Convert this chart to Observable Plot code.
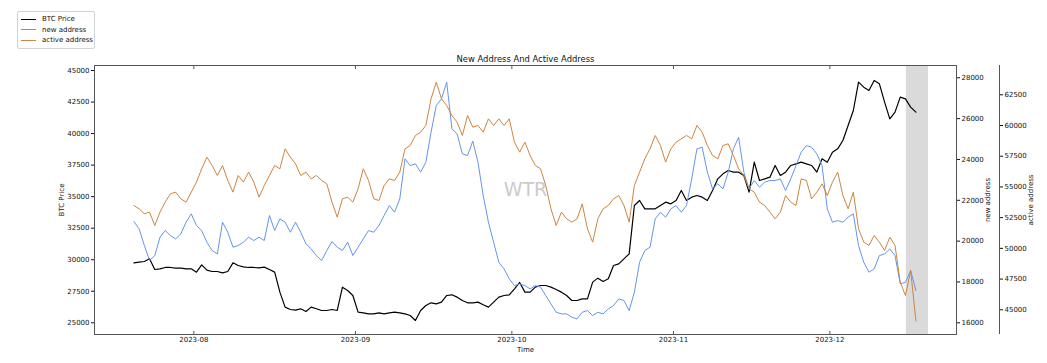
<!DOCTYPE html>
<html>
<head>
<meta charset="utf-8">
<script src="https://cdn.jsdelivr.net/npm/d3@7"></script>
<script src="https://cdn.jsdelivr.net/npm/@observablehq/plot@0.6"></script>
<style>
  html, body { margin: 0; padding: 0; background: #fff; }
  #wrap { position: relative; width: 1047px; height: 363px; font-family: "DejaVu Sans", sans-serif; }
  #legend { position: absolute; left: 17px; top: 11px; width: 78px; box-sizing: border-box; padding: 2px 0 2px 0;
            border: 1px solid #d4d4d4; border-radius: 2px; background: #fff; font-size: 7px; color: #111; white-space: nowrap; }
  .item { display: flex; align-items: center; height: 10.5px; }
  .swatch { width: 15px; flex: none; margin-left: 3px; margin-right: 6px; }
</style>
</head>
<body>
<div id="wrap"><div id="legend"></div></div>
<script>
// ---- data (daily, starting 2023-07-20 12:00 UTC) ----
const startDate = "2023-07-20T12:00:00Z";
const seriesNames = ["BTC Price", "new address", "active address"];
const seriesColors = ["#000000", "#6495ed", "#cd853f"];

const btcPrice = [
  29755, 29808, 29861, 30072, 29227, 29280, 29386, 29386, 29333, 29333,
  29280, 29280, 29016, 29597, 29174, 29068, 29068, 28963, 29068, 29755,
  29544, 29438, 29386, 29386, 29359, 29412, 29227, 29016, 27430, 26242,
  26057, 26004, 26110, 25898, 26242, 26110, 25977, 25977, 26057, 25977,
  27827, 27562, 27166, 25845, 25792, 25713, 25713, 25792, 25713, 25792,
  25845, 25792, 25713, 25581, 25185, 25977, 26374, 26585, 26506, 26638,
  27166, 27219, 27034, 26770, 26585, 26585, 26638, 26427, 26242, 26638,
  27034, 27166, 27219, 27695, 28200, 27430, 27430, 27827, 27959, 27959,
  27827, 27642, 27430, 27166, 26770, 26770, 26902, 26902, 28223, 28540,
  28276, 28487, 29544, 29676, 30072, 30469, 34300, 34696, 34035, 34035,
  34035, 34300, 34564, 34432, 34696, 35489, 34696, 34960, 35092, 34960,
  34696, 35489, 36413, 36810, 37074, 36942, 36942, 36678, 35356, 37734,
  36281, 36413, 36545, 37470, 36678, 36942, 37470, 37602, 37734, 37602,
  37470, 36942, 37998, 37734, 38527, 38791, 39451, 40640, 41829, 44075,
  43679, 43415, 44207, 43943, 42490, 41169, 41697, 42886, 42754, 42094,
  41697
];

const newAddress = [
  20960, 20600, 19784, 19049, 19294, 20192, 20519, 20274, 20110, 20355,
  20927, 21335, 20764, 20519, 19947, 19539, 19375, 20927, 20437, 19702,
  19784, 19947, 20192, 20029, 20192, 20029, 21254, 20519, 21090, 20927,
  20437, 20927, 20437, 19866, 19620, 19294, 19049, 19539, 19980, 19702,
  19539, 19947, 19294, 19702, 20110, 20519, 20437, 20764, 21254, 21743,
  21417, 22070, 24030, 23703, 23785, 23376, 23866, 25336, 26642, 26969,
  27786, 25499, 25254, 24274, 24193, 24900, 23866, 22233, 20927, 19947,
  18967, 18641, 18151, 17824, 17906, 17824, 17661, 17824, 17743, 17334,
  16926, 16518, 16436, 16436, 16273, 16191, 16518, 16600, 16355, 16518,
  16436, 16681, 16844, 17171, 17089, 16600, 17498, 18967, 19539, 19702,
  21090, 21417, 21172, 21580, 21743, 21417, 21743, 23050, 24520, 24601,
  23376, 22560, 22805, 22560, 23376, 24520, 25091, 23376, 22560, 22968,
  22641, 22887, 22968, 22968, 23050, 22478, 23050, 23703, 24356, 24683,
  24601, 24274, 23703, 21580, 20927, 21008, 20927, 21172, 21335, 19784,
  18967, 18477, 18641, 19294, 19376, 19620, 19294, 17906, 17987, 18559,
  17579
];

const activeAddress = [
  53490, 53219, 52812, 52948, 51862, 52948, 53762, 54440, 54576, 54033,
  53762, 54576, 55390, 56475, 57424, 56746, 55932, 56746, 55525, 54576,
  55932, 55390, 56204, 55390, 54169, 55118, 55932, 56746, 56475, 58103,
  57424, 56881, 55932, 56204, 55661, 55932, 55525, 55254, 53762, 52541,
  54033, 54169, 53762, 54847, 56475, 55525, 54033, 53898, 55118, 55661,
  55525, 56204, 58103, 58374, 59188, 59459, 60002, 62172, 63529, 62172,
  61629, 60815, 60273, 59188, 60815, 59866, 60002, 59459, 60544, 60002,
  60544, 60002, 60544, 58645, 57831, 58645, 57560, 56746, 56475, 55118,
  53219, 51862, 52948, 52405, 52134, 52405, 53626, 51591, 50506, 52405,
  53219, 53490, 54033, 54304, 53490, 52134, 55118, 56204, 57289, 58103,
  59188, 58374, 57017, 58103, 58645, 58916, 59188, 58916, 60002, 59459,
  58374, 57560, 57289, 58374, 58510, 57560, 56475, 55932, 54847, 54576,
  53762, 53490, 52948, 52405, 52948, 54304, 53762, 53490, 55661, 55525,
  54033, 54576, 55254, 54304, 55390, 56204, 54304, 53219, 54576, 51591,
  50506, 50235, 51049, 50506, 49828, 50913, 50235, 47250, 46165, 48200,
  44100
];

const monthTicks = ["2023-08-01", "2023-09-01", "2023-10-01", "2023-11-01", "2023-12-01"];
const btcTicks = [25000, 27500, 30000, 32500, 35000, 37500, 40000, 42500, 45000];
const newTicks = [16000, 18000, 20000, 22000, 24000, 26000, 28000];
const activeTicks = [45000, 47500, 50000, 52500, 55000, 57500, 60000, 62500];
const shadeRange = ["2023-12-15T16:00:00Z", "2023-12-19T22:00:00Z"];

// ---- axis domains (visible ranges of the three y axes and the time axis) ----
const xDomain = [new Date("2023-07-12T22:30:00Z"), new Date("2023-12-25T07:00:00Z")];
const btcDomain = [24073, 45396];
const newDomain = [15427, 28602];
const activeDomain = [42988, 64885];

const newToBtc = d3.scaleLinear(newDomain, btcDomain);
const actToBtc = d3.scaleLinear(activeDomain, btcDomain);

const t0 = new Date(startDate);
const rows = btcPrice.map((v, i) => ({
  date: d3.utcDay.offset(t0, i),
  btc: v,
  newAddr: newAddress[i],
  act: activeAddress[i]
}));

const monthDates = monthTicks.map(d => new Date(d));
const fmtInt = v => String(Math.round(v));

const chart = Plot.plot({
  width: 1047,
  height: 363,
  marginLeft: 94,
  marginRight: 91,
  marginTop: 65,
  marginBottom: 29,
  style: { fontFamily: "DejaVu Sans, sans-serif", fontSize: "7px", color: "#111", background: "#fff" },
  x: { type: "utc", domain: xDomain },
  y: { domain: btcDomain },
  marks: [
    Plot.rect([{ x1: new Date(shadeRange[0]), x2: new Date(shadeRange[1]) }], { x1: "x1", x2: "x2", fill: "#dadada" }),
    Plot.text(["WTR"], { frameAnchor: "middle", dy: -10, fontSize: 19, fill: "#cbcbcb" }),
    Plot.line(rows, { x: "date", y: "btc", stroke: seriesColors[0], strokeWidth: 1.2 }),
    Plot.line(rows, { x: "date", y: d => newToBtc(d.newAddr), stroke: seriesColors[1], strokeWidth: 1 }),
    Plot.line(rows, { x: "date", y: d => actToBtc(d.act), stroke: seriesColors[2], strokeWidth: 1 }),
    Plot.frame({ stroke: "#555" }),
    Plot.ruleX([xDomain[1]], { dx: 43, stroke: "#555" }),
    // inward month ticks at bottom and top of the frame
    Plot.axisX(monthDates, { anchor: "bottom", tickSize: 3, dy: -3, tickFormat: () => "", label: null, stroke: "#555" }),
    Plot.axisX(monthDates, { anchor: "top", tickSize: 3, dy: 3, tickFormat: () => "", label: null, stroke: "#555" }),
    Plot.axisX(monthDates, { anchor: "bottom", tickSize: 0, tickPadding: 2.5, tickFormat: d3.utcFormat("%Y-%m"), label: null }),
    Plot.axisY(btcTicks, { anchor: "left", tickSize: 3, tickPadding: 2, tickFormat: fmtInt, label: null }),
    Plot.axisY(newTicks.map(v => newToBtc(v)), { anchor: "right", tickSize: 3, tickPadding: 2, tickFormat: v => fmtInt(newToBtc.invert(v)), label: null }),
    Plot.axisY(activeTicks.map(v => actToBtc(v)), { anchor: "right", dx: 43, tickSize: 3, tickPadding: 2, tickFormat: v => fmtInt(actToBtc.invert(v)), label: null }),
    Plot.text(["New Address And Active Address"], { frameAnchor: "top", lineAnchor: "bottom", dy: -4, fontSize: 8.4 }),
    Plot.text(["Time"], { frameAnchor: "bottom", lineAnchor: "middle", dy: 15 }),
    Plot.text([seriesNames[0]], { frameAnchor: "left", textAnchor: "middle", rotate: -90, dx: -32.6 }),
    Plot.text([seriesNames[1]], { frameAnchor: "right", textAnchor: "middle", rotate: -90, dx: 31.7 }),
    Plot.text([seriesNames[2]], { frameAnchor: "right", textAnchor: "middle", rotate: -90, dx: 74.7 })
  ]
});

document.getElementById("wrap").prepend(chart);

const legend = document.getElementById("legend");
seriesNames.forEach((name, i) => {
  const item = document.createElement("div");
  item.className = "item";
  const sw = document.createElement("div");
  sw.className = "swatch";
  sw.style.borderTop = (i === 0 ? 1.5 : 1) + "px solid " + seriesColors[i];
  const label = document.createElement("span");
  label.textContent = name;
  item.appendChild(sw);
  item.appendChild(label);
  legend.appendChild(item);
});
</script>
</body>
</html>
